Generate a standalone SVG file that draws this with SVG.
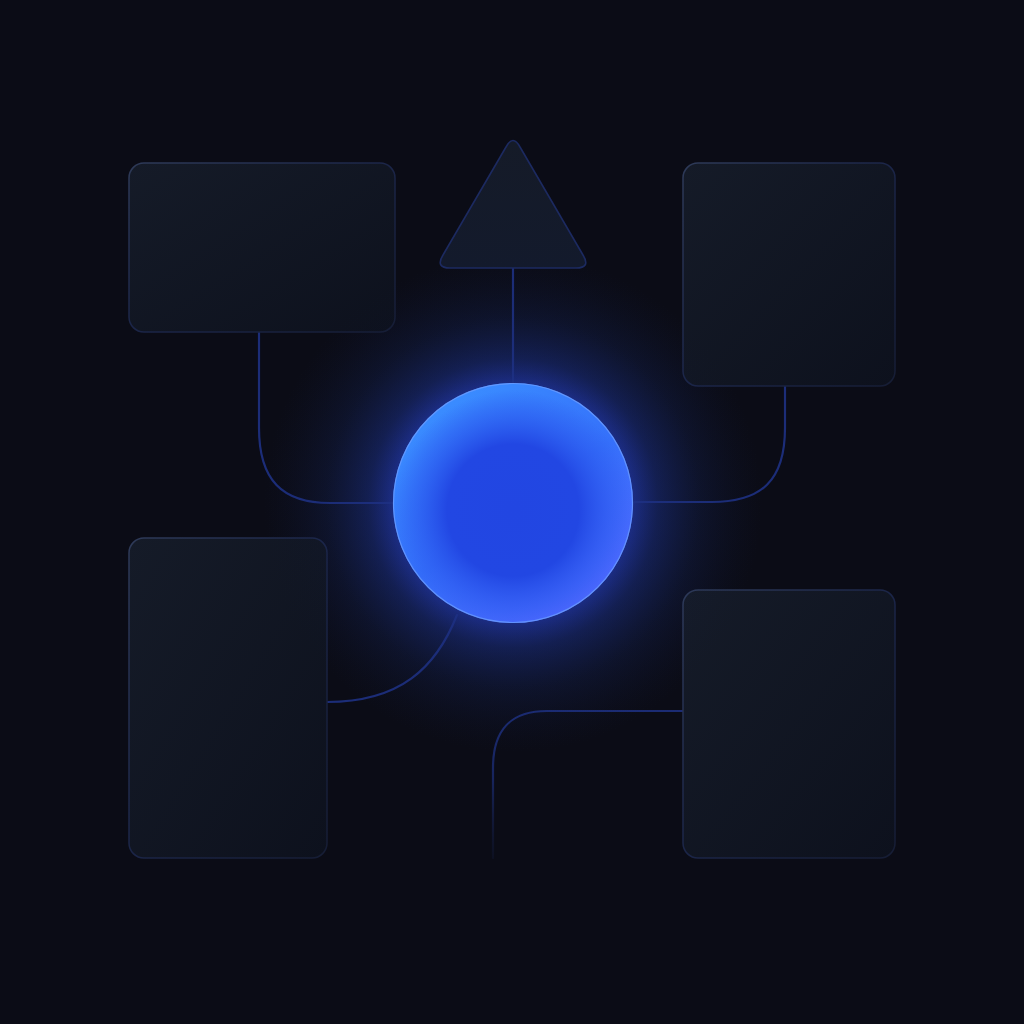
<svg xmlns="http://www.w3.org/2000/svg" width="1024" height="1024" viewBox="0 0 1024 1024">
<defs>
<linearGradient id="cardFill" x1="0" y1="0" x2="1" y2="1">
<stop offset="0" stop-color="#151b28"/>
<stop offset="1" stop-color="#0d111d"/>
</linearGradient>
<linearGradient id="cardStroke" x1="0" y1="0" x2="1" y2="1">
<stop offset="0" stop-color="#2e3a58"/>
<stop offset="0.5" stop-color="#1b2548"/>
<stop offset="1" stop-color="#161d35"/>
</linearGradient>
<linearGradient id="triFill" x1="0" y1="0" x2="0" y2="1">
<stop offset="0" stop-color="#151b28"/>
<stop offset="1" stop-color="#131a2c"/>
</linearGradient>
<radialGradient id="glow" cx="513" cy="503" r="250" gradientUnits="userSpaceOnUse">
<stop offset="0.46" stop-color="#2640c8" stop-opacity="0.6"/>
<stop offset="0.58" stop-color="#1d3494" stop-opacity="0.4"/>
<stop offset="0.75" stop-color="#172a6c" stop-opacity="0.2"/>
<stop offset="1" stop-color="#101a40" stop-opacity="0"/>
</radialGradient>
<linearGradient id="orbBase" x1="0.2" y1="0.1" x2="0.8" y2="0.95">
<stop offset="0" stop-color="#3a8cff"/>
<stop offset="0.5" stop-color="#3570fa"/>
<stop offset="1" stop-color="#5068ff"/>
</linearGradient>
<radialGradient id="orbCore" cx="0.5" cy="0.53" r="0.5">
<stop offset="0" stop-color="#2246e2"/>
<stop offset="0.55" stop-color="#2247e3"/>
<stop offset="0.82" stop-color="#2a57ee" stop-opacity="0.5"/>
<stop offset="1" stop-color="#2a57ee" stop-opacity="0"/>
</radialGradient>
<linearGradient id="fadeDown" x1="0" y1="700" x2="0" y2="860" gradientUnits="userSpaceOnUse">
<stop offset="0" stop-color="#1c2d78"/>
<stop offset="0.5" stop-color="#17245c"/>
<stop offset="1" stop-color="#121a3a" stop-opacity="0.3"/>
</linearGradient>
</defs>
<style>
.card{fill:url(#cardFill);stroke:url(#cardStroke);stroke-width:1.5}
.wire{fill:none;stroke:#1c2d78;stroke-width:2.2;stroke-linecap:round}
</style>
<rect width="1024" height="1024" fill="#0b0c16"/>

<circle cx="513" cy="503" r="250" fill="url(#glow)"/>

<g id="connectors">
<path class="wire" d="M513 268 V384"/>
<path class="wire" d="M259 332 V428 C259 480 282 503 330 503 H395"/>
<path class="wire" d="M785 386 V428 C785 480 762 502 712 502 H631"/>
<path class="wire" d="M327 702 C400 702 436 668 457 615"/>
<path class="wire" style="stroke:url(#fadeDown)" d="M683 711 H547 C510 711 493 730 493 768 V858"/>
</g>

<g id="node-top-left"><rect class="card" x="129" y="163" width="266" height="169" rx="15"/></g>
<g id="node-top-right"><rect class="card" x="683" y="163" width="212" height="223" rx="15"/></g>
<g id="node-bottom-left"><rect class="card" x="129" y="538" width="198" height="320" rx="15"/></g>
<g id="node-bottom-right"><rect class="card" x="683" y="590" width="212" height="268" rx="15"/></g>
<g id="node-triangle"><path d="M506 147 Q513 134 520 147 L583 255 Q591 268 576 268 L450 268 Q435 268 443 255 Z" fill="url(#triFill)" stroke="#1c2a60" stroke-width="1.6"/></g>

<circle cx="513" cy="503" r="250" fill="url(#glow)" opacity="0.3"/>

<g id="node-orb">
<circle cx="513" cy="503" r="120" fill="url(#orbBase)"/>
<circle cx="513" cy="503" r="120" fill="url(#orbCore)"/>
<circle cx="513" cy="503" r="119.5" fill="none" stroke="#6a9cff" stroke-width="1.2" opacity="0.8"/>
</g>
</svg>
